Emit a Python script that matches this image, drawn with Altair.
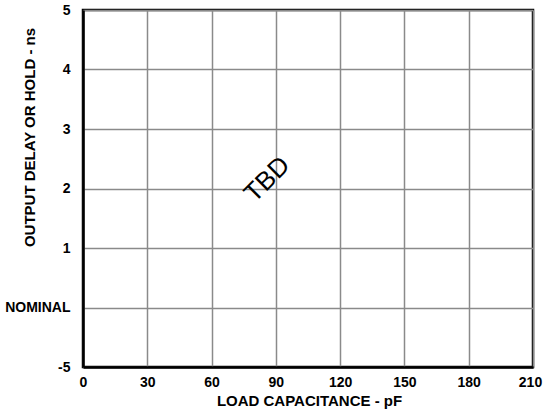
import altair as alt
import pandas as pd

x_ticks = [0, 30, 60, 90, 120, 150, 180, 210]
y_labels = ["-5", "NOMINAL", "1", "2", "3", "4", "5"]
y_pos = list(range(len(y_labels)))

note_text = ["TBD"]
note_x = [86]
note_y = [3.15]

label_expr = "[" + ",".join(f"'{s}'" for s in y_labels) + "][datum.value]"

base = alt.Chart(pd.DataFrame({"x": [0, 210], "y": [0, 6]})).mark_point(opacity=0).encode(
    x=alt.X("x:Q", scale=alt.Scale(domain=[0, 210], nice=False),
            axis=alt.Axis(values=x_ticks, title="LOAD CAPACITANCE - pF", grid=True,
                          ticks=False, labelPadding=8, labelFlush=False,
                          labelOffset={"condition": {"test": "datum.value == 210", "value": -3}, "value": 0},
                          titleX=226, titleY=33, titleBaseline="middle", titleAlign="center")),
    y=alt.Y("y:Q", scale=alt.Scale(domain=[0, 6], nice=False),
            axis=alt.Axis(values=y_pos, labelExpr=label_expr, title="OUTPUT DELAY OR HOLD - ns",
                          grid=True, ticks=False, labelPadding=13, labelFlush=False,
                          titleX=-54, titleY=127, titleBaseline="middle", titleAlign="center",
                          titleAngle=270)),
)

note = alt.Chart(pd.DataFrame({"t": note_text, "x": note_x, "y": note_y})).mark_text(
    angle=315, fontSize=26, font="Liberation Sans", color="black"
).encode(x="x:Q", y="y:Q", text="t:N")

chart = alt.layer(base, note).properties(
    width=450, height=357,
    background="white",
    autosize=alt.AutoSizeParams(type="none"),
    padding={"left": 83, "top": 10, "right": 10, "bottom": 45},
).configure_view(stroke="black", strokeWidth=2.5).configure_axis(
    gridColor="#8a8a8a", gridWidth=1.5, gridOpacity=1,
    domain=True, domainColor="black", domainWidth=2.5,
    labelFont="Liberation Sans", labelFontWeight="bold", labelFontSize=14, labelColor="black",
    titleFont="Liberation Sans", titleFontWeight="bold", titleFontSize=15, titleColor="black",
)

chart.save("out.html", embed_options={"renderer": "svg", "actions": False})
